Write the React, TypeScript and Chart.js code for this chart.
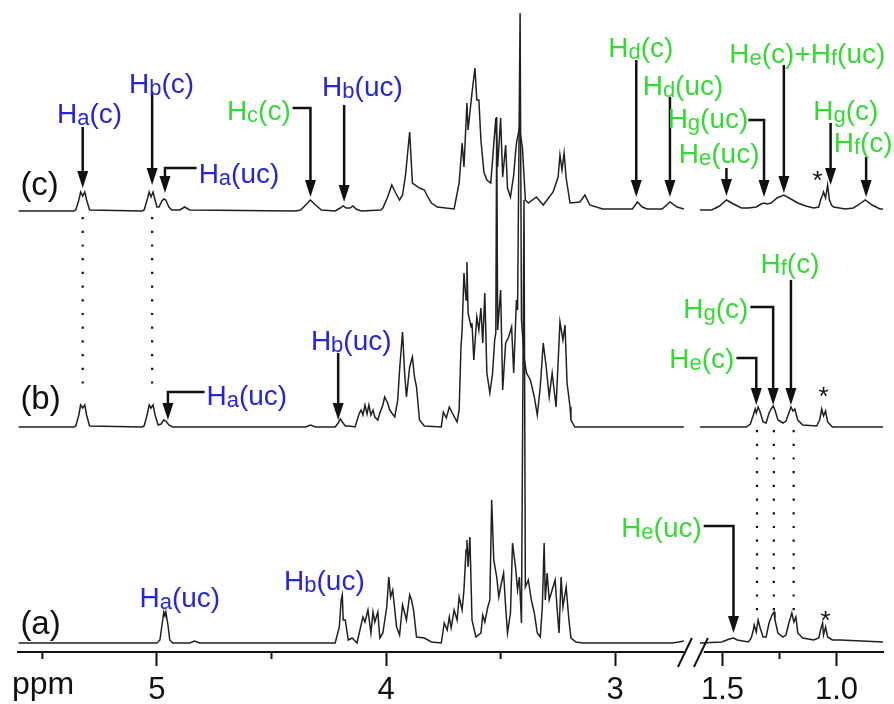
import React, { useEffect, useRef } from "react";
import { Chart, registerables } from "chart.js";

Chart.register(...registerables);

// ---------------- DATA (ppm, intensity above the trace's own baseline) ----------------
const SPEC_C_LEFT: [number, number][] = [
  [5.605, 0], [5.363, 0], [5.354, 1], [5.341, 11], [5.333, 19], [5.324, 15], [5.315, 19], [5.307, 11], [5.294, 1],
  [5.065, 0], [5.056, 1], [5.043, 11], [5.034, 19], [5.026, 14], [5.017, 19], [5.008, 11], [5.0, 4], [4.991, 4],
  [4.978, 10], [4.97, 12], [4.961, 11], [4.948, 4], [4.935, 1], [4.9, 1], [4.879, 4], [4.857, 1], [4.395, 0],
  [4.373, 1], [4.351, 6], [4.33, 11], [4.308, 6], [4.282, 1], [4.222, 0], [4.2, 3], [4.187, 5], [4.174, 3],
  [4.157, 3], [4.144, 5], [4.131, 2], [4.109, 0], [4.023, 1], [4.014, 3], [3.993, 14], [3.975, 26], [3.958, 18],
  [3.941, 11], [3.928, 16], [3.915, 36], [3.897, 79], [3.885, 28], [3.854, 23], [3.833, 21], [3.815, 13],
  [3.802, 8], [3.776, 4], [3.703, 2], [3.681, 28], [3.668, 68], [3.66, 44], [3.647, 108], [3.642, 81],
  [3.625, 118], [3.612, 143], [3.604, 111], [3.595, 111], [3.586, 71], [3.573, 39], [3.56, 31], [3.543, 28],
  [3.521, 93], [3.513, 44], [3.5, 93], [3.491, 34], [3.478, 66], [3.47, 23], [3.457, 14], [3.443, 36],
  [3.431, 68], [3.418, 83], [3.405, 64], [3.392, 11], [3.379, 8], [3.344, 14], [3.314, 6], [3.271, 19],
  [3.249, 34], [3.241, 56], [3.232, 41], [3.223, 58], [3.214, 33], [3.197, 8], [3.154, 9], [3.132, 16],
  [3.111, 6], [3.055, 2], [2.925, 2], [2.903, 9], [2.882, 4], [2.86, 2], [2.795, 2], [2.761, 9], [2.73, 4], [2.7, 2],
];
const SPEC_C_RIGHT: [number, number][] = [
  [1.6, 1], [1.548, 1], [1.513, 5], [1.483, 11], [1.452, 7], [1.417, 3], [1.387, 3], [1.352, 4], [1.331, 7],
  [1.318, 8], [1.304, 7], [1.287, 8], [1.261, 13], [1.231, 16], [1.2, 12], [1.17, 8], [1.135, 5], [1.1, 3],
  [1.078, 4], [1.07, 11], [1.061, 16], [1.057, 19], [1.048, 13], [1.039, 26], [1.031, 11], [1.022, 6],
  [1.013, 4], [0.961, 2], [0.926, 3], [0.905, 6], [0.874, 11], [0.844, 6], [0.809, 2], [0.796, 2],
];
const SPEC_B_LEFT: [number, number][] = [
  [5.605, 0], [5.363, 0], [5.354, 1], [5.341, 12], [5.333, 22], [5.324, 19], [5.315, 22], [5.307, 12], [5.294, 1],
  [5.065, 0], [5.056, 1], [5.043, 12], [5.034, 22], [5.026, 19], [5.017, 22], [5.008, 12], [4.995, 2], [4.982, 3],
  [4.97, 7], [4.961, 6], [4.948, 2], [4.931, 0], [4.351, 0], [4.33, 2], [4.308, 0], [4.222, 0], [4.209, 4],
  [4.2, 8], [4.191, 5], [4.178, 1], [4.161, 1], [4.135, 0], [4.118, 13], [4.109, 17], [4.101, 12], [4.092, 22],
  [4.083, 13], [4.075, 22], [4.066, 12], [4.057, 17], [4.049, 10], [4.036, 7], [4.027, 14], [4.014, 22],
  [4.006, 30], [3.993, 24], [3.984, 17], [3.975, 14], [3.962, 10], [3.949, 27], [3.941, 57], [3.928, 95],
  [3.919, 54], [3.911, 30], [3.897, 60], [3.885, 70], [3.876, 50], [3.867, 40], [3.854, 7], [3.833, 1],
  [3.759, 0], [3.75, 15], [3.737, 9], [3.724, 20], [3.711, 14], [3.69, 5], [3.681, 17], [3.673, 80],
  [3.668, 97], [3.66, 154], [3.651, 127], [3.647, 165], [3.642, 114], [3.629, 100], [3.625, 104], [3.617, 67],
  [3.604, 110], [3.595, 97], [3.586, 119], [3.578, 84], [3.569, 134], [3.56, 54], [3.547, 34], [3.535, 54],
  [3.526, 87], [3.521, 94], [3.517, 310], [3.513, 97], [3.5, 137], [3.491, 37], [3.478, 84], [3.465, 90],
  [3.452, 100], [3.443, 54], [3.431, 127], [3.426, 117], [3.415, 414], [3.409, 107], [3.396, 67], [3.387, 54],
  [3.37, 47], [3.353, 30], [3.34, 12], [3.327, 40], [3.314, 84], [3.301, 60], [3.288, 30], [3.275, 54],
  [3.258, 20], [3.241, 105], [3.228, 87], [3.219, 102], [3.21, 44], [3.197, 20], [3.193, 7], [3.176, 0], [2.7, 0],
];
const SPEC_B_RIGHT: [number, number][] = [
  [1.6, 0], [1.396, 0], [1.378, 3], [1.365, 12], [1.357, 18], [1.352, 14], [1.344, 20], [1.335, 15], [1.322, 5],
  [1.309, 4], [1.296, 14], [1.287, 18], [1.278, 21], [1.27, 17], [1.257, 7], [1.235, 4], [1.222, 6], [1.209, 14],
  [1.2, 20], [1.191, 16], [1.183, 18], [1.17, 7], [1.148, 2], [1.087, 1], [1.074, 7], [1.065, 18], [1.057, 11],
  [1.048, 16], [1.039, 5], [1.018, 0], [0.796, 0],
];
const SPEC_A_LEFT: [number, number][] = [
  [5.605, 0], [5.0, 0], [4.987, 3], [4.978, 18], [4.97, 31], [4.965, 27], [4.961, 31], [4.952, 18], [4.944, 3],
  [4.931, 0], [4.857, 0], [4.836, 2], [4.814, 0], [4.222, 0], [4.204, 16], [4.196, 43], [4.191, 48], [4.187, 23],
  [4.178, 23], [4.165, 3], [4.148, 5], [4.127, 0], [4.114, 13], [4.101, 26], [4.092, 21], [4.079, 33], [4.066, 10],
  [4.057, 31], [4.049, 21], [4.036, 31], [4.027, 5], [4.014, 10], [3.997, 36], [3.988, 66], [3.98, 46], [3.971, 53],
  [3.954, 16], [3.941, 8], [3.928, 38], [3.911, 23], [3.897, 48], [3.889, 43], [3.88, 33], [3.867, 6], [3.833, 5],
  [3.802, 1], [3.759, 0], [3.746, 20], [3.733, 13], [3.724, 26], [3.716, 15], [3.703, 33], [3.69, 23], [3.681, 46],
  [3.668, 33], [3.66, 53], [3.651, 93], [3.647, 103], [3.642, 76], [3.634, 106], [3.625, 23], [3.608, 6],
  [3.586, 10], [3.578, 28], [3.569, 21], [3.556, 36], [3.547, 43], [3.539, 143], [3.53, 83], [3.517, 66],
  [3.508, 46], [3.5, 56], [3.487, 70], [3.478, 36], [3.47, 10], [3.457, 30], [3.448, 100], [3.435, 76],
  [3.426, 53], [3.418, 66], [3.409, 20], [3.398, 443], [3.392, 56], [3.379, 63], [3.366, 43], [3.353, 30],
  [3.34, 10], [3.327, 6], [3.318, 36], [3.31, 100], [3.305, 43], [3.297, 70], [3.288, 43], [3.275, 53],
  [3.262, 63], [3.254, 36], [3.245, 10], [3.236, 66], [3.228, 36], [3.214, 56], [3.202, 23], [3.193, 5],
  [3.171, 1], [3.141, 0], [2.752, 0], [2.722, 1], [2.7, 2],
];
const SPEC_A_RIGHT: [number, number][] = [
  [1.6, 0], [1.504, 1], [1.47, 4], [1.452, 5], [1.435, 3], [1.387, 1], [1.374, 5], [1.365, 13], [1.361, 18],
  [1.352, 11], [1.344, 23], [1.335, 15], [1.322, 6], [1.309, 6], [1.296, 20], [1.283, 28], [1.274, 31],
  [1.27, 23], [1.257, 10], [1.235, 6], [1.222, 8], [1.209, 20], [1.196, 30], [1.187, 21], [1.178, 26],
  [1.17, 10], [1.148, 5], [1.1, 3], [1.078, 5], [1.07, 13], [1.061, 20], [1.057, 8], [1.048, 16], [1.039, 6],
  [1.018, 3], [0.983, 3], [0.796, 1],
];

// vertical stacking offsets of the three traces (y units)
const OFFSET_A = 9;
const OFFSET_B = 225;
const OFFSET_C = 441;

// axis ranges & ticks
const RANGE_LEFT = [2.7, 5.605];
const RANGE_RIGHT = [0.796, 1.6];
const TICKS_LEFT = [5.5, 5, 4.5, 4, 3.5, 3];
const TICK_LABELS_LEFT = ["", "5", "", "4", "", "3"];
const TICKS_RIGHT = [1.5, 1.25, 1.0];
const TICK_LABELS_RIGHT = ["1.5", "", "1.0"];

// ---------------- ANNOTATIONS ----------------
const BLUE = "#2626d2";
const GREEN = "#36d936";
const INK = "#111111";

type Lbl = { axis: string; ppm: number; u: number; text: string; color: string; align: "left" | "center" | "right"; size: number };
const LABELS: Lbl[] = [
  // (c)
  { axis: "xL", ppm: 5.294, u: 539, text: "H_a(c)", color: BLUE, align: "center", size: 28 },
  { axis: "xL", ppm: 4.98, u: 569, text: "H_b(c)", color: BLUE, align: "center", size: 28 },
  { axis: "xL", ppm: 4.818, u: 479, text: "H_a(uc)", color: BLUE, align: "left", size: 28 },
  { axis: "xL", ppm: 4.416, u: 542, text: "H_c(c)", color: GREEN, align: "right", size: 28 },
  { axis: "xL", ppm: 4.103, u: 566, text: "H_b(uc)", color: BLUE, align: "center", size: 28 },
  { axis: "xL", ppm: 2.888, u: 605, text: "H_d(c)", color: GREEN, align: "center", size: 28 },
  { axis: "xL", ppm: 2.704, u: 567, text: "H_d(uc)", color: GREEN, align: "center", size: 28 },
  { axis: "xR", ppm: 1.128, u: 599, text: "H_e(c)+H_f(uc)", color: GREEN, align: "center", size: 28 },
  { axis: "xR", ppm: 1.387, u: 534, text: "H_g(uc)", color: GREEN, align: "right", size: 28 },
  { axis: "xR", ppm: 1.515, u: 499, text: "H_e(uc)", color: GREEN, align: "center", size: 28 },
  { axis: "xR", ppm: 0.959, u: 542, text: "H_g(c)", color: GREEN, align: "center", size: 28 },
  { axis: "xR", ppm: 0.883, u: 510, text: "H_f(c)", color: GREEN, align: "center", size: 28 },
  { axis: "xL", ppm: 5.596, u: 469, text: "(c)", color: INK, align: "left", size: 33 },
  // (b)
  { axis: "xL", ppm: 4.784, u: 257, text: "H_a(uc)", color: BLUE, align: "left", size: 28 },
  { axis: "xL", ppm: 4.152, u: 312, text: "H_b(uc)", color: BLUE, align: "center", size: 28 },
  { axis: "xR", ppm: 1.448, u: 294, text: "H_e(c)", color: GREEN, align: "right", size: 28 },
  { axis: "xR", ppm: 1.387, u: 344, text: "H_g(c)", color: GREEN, align: "right", size: 28 },
  { axis: "xR", ppm: 1.204, u: 389, text: "H_f(c)", color: GREEN, align: "center", size: 28 },
  { axis: "xL", ppm: 5.596, u: 255, text: "(b)", color: INK, align: "left", size: 33 },
  // (a)
  { axis: "xL", ppm: 4.9, u: 55, text: "H_a(uc)", color: BLUE, align: "center", size: 28 },
  { axis: "xL", ppm: 4.269, u: 72, text: "H_b(uc)", color: BLUE, align: "center", size: 28 },
  { axis: "xR", ppm: 1.591, u: 125, text: "H_e(uc)", color: GREEN, align: "right", size: 28 },
  { axis: "xL", ppm: 5.596, u: 30, text: "(a)", color: INK, align: "left", size: 33 },
];

const STARS = [
  { axis: "xR", ppm: 1.083, u: 475 },
  { axis: "xR", ppm: 1.057, u: 259 },
  { axis: "xR", ppm: 1.048, u: 35 },
];

type Arrow = { axis: string; ppm: number; from: number; to: number; elbowFrom?: number };
const ARROWS: Arrow[] = [
  { axis: "xL", ppm: 5.324, from: 525, to: 464 },
  { axis: "xL", ppm: 5.021, from: 559, to: 467 },
  { axis: "xL", ppm: 4.965, from: 484, to: 459, elbowFrom: 4.827 },
  { axis: "xL", ppm: 4.33, from: 544, to: 455, elbowFrom: 4.408 },
  { axis: "xL", ppm: 4.183, from: 547, to: 450 },
  { axis: "xL", ppm: 2.908, from: 592, to: 455 },
  { axis: "xL", ppm: 2.761, from: 555, to: 455 },
  { axis: "xR", ppm: 1.231, from: 587, to: 459 },
  { axis: "xR", ppm: 1.318, from: 532, to: 455, elbowFrom: 1.387 },
  { axis: "xR", ppm: 1.483, from: 484, to: 456 },
  { axis: "xR", ppm: 1.026, from: 529, to: 467 },
  { axis: "xR", ppm: 0.87, from: 495, to: 455 },
  { axis: "xL", ppm: 4.952, from: 260, to: 232, elbowFrom: 4.792 },
  { axis: "xL", ppm: 4.209, from: 299, to: 232 },
  { axis: "xR", ppm: 1.352, from: 294, to: 247, elbowFrom: 1.439 },
  { axis: "xR", ppm: 1.278, from: 345, to: 247, elbowFrom: 1.378 },
  { axis: "xR", ppm: 1.2, from: 372, to: 247 },
  { axis: "xR", ppm: 1.452, from: 126, to: 19, elbowFrom: 1.583 },
];

const DOTTED = [
  { axis: "xL", ppm: 5.324, from: 435, to: 257 },
  { axis: "xL", ppm: 5.021, from: 435, to: 257 },
  { axis: "xR", ppm: 1.349, from: 222, to: 40 },
  { axis: "xR", ppm: 1.275, from: 222, to: 40 },
  { axis: "xR", ppm: 1.188, from: 222, to: 40 },
];

const FONT = '"Liberation Sans", Arial, Helvetica, sans-serif';

function drawRich(ctx: CanvasRenderingContext2D, text: string, x: number, y: number, align: string, color: string, size: number) {
  const parts: { t: string; sub: boolean; w: number }[] = [];
  let i = 0;
  while (i < text.length) {
    if (text[i] === "_") {
      parts.push({ t: text[i + 1], sub: true, w: 0 });
      i += 2;
    } else {
      let j = i;
      while (j < text.length && text[j] !== "_") j++;
      parts.push({ t: text.slice(i, j), sub: false, w: 0 });
      i = j;
    }
  }
  const subSize = Math.round(size * 0.8);
  let total = 0;
  for (const p of parts) {
    ctx.font = `${p.sub ? subSize : size}px ${FONT}`;
    p.w = ctx.measureText(p.t).width;
    total += p.w;
  }
  let x0 = align === "left" ? x : align === "right" ? x - total : x - total / 2;
  const base = y + size * 0.36;
  ctx.fillStyle = color;
  ctx.textAlign = "left";
  ctx.textBaseline = "alphabetic";
  for (const p of parts) {
    ctx.font = `${p.sub ? subSize : size}px ${FONT}`;
    ctx.fillText(p.t, x0, base + (p.sub ? 2 : 0));
    x0 += p.w;
  }
}

const annotationPlugin = {
  id: "nmrAnnotations",
  afterDraw(chart: any) {
    const { ctx, chartArea } = chart;
    const px = (axis: string, v: number) => chart.scales[axis].getPixelForValue(v);
    const py = (v: number) => chart.scales.y.getPixelForValue(v);
    const bottom = chartArea.bottom;
    ctx.save();

    // minor ticks (shorter)
    ctx.strokeStyle = INK;
    ctx.lineWidth = 2;
    TICKS_LEFT.forEach((v, k) => {
      if (TICK_LABELS_LEFT[k]) return;
      const x = px("xL", v);
      ctx.beginPath(); ctx.moveTo(x, bottom); ctx.lineTo(x, bottom + 7); ctx.stroke();
    });
    TICKS_RIGHT.forEach((v, k) => {
      if (TICK_LABELS_RIGHT[k]) return;
      const x = px("xR", v);
      ctx.beginPath(); ctx.moveTo(x, bottom); ctx.lineTo(x, bottom + 7); ctx.stroke();
    });

    // axis break marks
    const g = chart.scales.xG;
    ctx.fillStyle = "#ffffff";
    ctx.fillRect(g.left, bottom - 3, g.right - g.left + 4, 6);
    ctx.strokeStyle = INK;
    ctx.lineWidth = 2;
    ctx.beginPath();
    ctx.moveTo(g.left - 6, bottom + 15); ctx.lineTo(g.left + 8, bottom - 14);
    ctx.moveTo(g.left + 10, bottom + 15); ctx.lineTo(g.left + 24, bottom - 14);
    ctx.stroke();

    // "ppm"
    ctx.fillStyle = INK;
    ctx.font = `32px ${FONT}`;
    ctx.textAlign = "left";
    ctx.textBaseline = "alphabetic";
    ctx.fillText("ppm", 12, 694);

    // dotted guide lines
    ctx.strokeStyle = INK;
    ctx.lineWidth = 2.2;
    ctx.setLineDash([2.2, 11.5]);
    for (const d of DOTTED) {
      const x = px(d.axis, d.ppm);
      ctx.beginPath(); ctx.moveTo(x, py(d.from)); ctx.lineTo(x, py(d.to)); ctx.stroke();
    }
    ctx.setLineDash([]);

    // arrows
    const headLen = 17, halfW = 5.5;
    ctx.lineWidth = 2.5;
    ctx.strokeStyle = INK;
    ctx.fillStyle = INK;
    for (const a of ARROWS) {
      const x = px(a.axis, a.ppm);
      const y0 = py(a.from);
      const yt = py(a.to);
      ctx.beginPath();
      if (a.elbowFrom !== undefined) {
        ctx.moveTo(px(a.axis, a.elbowFrom), y0);
        ctx.lineTo(x, y0);
      } else {
        ctx.moveTo(x, y0);
      }
      ctx.lineTo(x, yt - headLen + 2);
      ctx.stroke();
      ctx.beginPath();
      ctx.moveTo(x, yt);
      ctx.lineTo(x - halfW, yt - headLen);
      ctx.lineTo(x + halfW, yt - headLen);
      ctx.closePath();
      ctx.fill();
    }

    // labels
    for (const l of LABELS) {
      drawRich(ctx, l.text, px(l.axis, l.ppm), py(l.u), l.align, l.color, l.size);
    }

    // asterisks
    ctx.fillStyle = INK;
    ctx.font = `26px ${FONT}`;
    ctx.textAlign = "center";
    ctx.textBaseline = "middle";
    for (const s of STARS) {
      ctx.fillText("*", px(s.axis, s.ppm), py(s.u) + 5);
    }
    ctx.restore();
  },
};

function makeSet(points: [number, number][], offset: number, axis: string) {
  return {
    data: points.map(([p, v]) => ({ x: p, y: offset + v })),
    xAxisID: axis,
    yAxisID: "y",
    showLine: true,
    pointRadius: 0,
    borderColor: "#202020",
    borderWidth: 1.5,
    tension: 0,
    fill: false,
  };
}

export default function App() {
  const ref = useRef<HTMLCanvasElement | null>(null);

  useEffect(() => {
    if (!ref.current) return;
    const tickFont = { family: FONT, size: 31 };
    const fixHeight = (s: any) => { s.height = 52; };
    const chart = new Chart(ref.current, {
      type: "scatter",
      data: {
        datasets: [
          makeSet(SPEC_C_LEFT, OFFSET_C, "xL"),
          makeSet(SPEC_C_RIGHT, OFFSET_C, "xR"),
          makeSet(SPEC_B_LEFT, OFFSET_B, "xL"),
          makeSet(SPEC_B_RIGHT, OFFSET_B, "xR"),
          makeSet(SPEC_A_LEFT, OFFSET_A, "xL"),
          makeSet(SPEC_A_RIGHT, OFFSET_A, "xR"),
        ] as any,
      },
      options: {
        animation: false,
        responsive: false,
        events: [],
        layout: { padding: { left: 10, right: 11, top: 10, bottom: 0 } },
        plugins: { legend: { display: false }, tooltip: { enabled: false } },
        scales: {
          xL: {
            type: "linear",
            position: "bottom",
            stack: "x",
            stackWeight: 672,
            reverse: true,
            min: RANGE_LEFT[0],
            max: RANGE_LEFT[1],
            afterBuildTicks: (s: any) => { s.ticks = TICKS_LEFT.map((v) => ({ value: v })); },
            afterFit: fixHeight,
            border: { display: true, color: INK, width: 2 },
            grid: {
              display: true,
              drawOnChartArea: false,
              drawTicks: true,
              tickLength: 14,
              tickWidth: 2,
              tickColor: (c: any) => (TICK_LABELS_LEFT[c.index] ? INK : "rgba(0,0,0,0)"),
            },
            ticks: {
              autoSkip: false,
              maxRotation: 0,
              padding: 6,
              color: INK,
              font: tickFont,
              callback: (_v: any, i: number) => TICK_LABELS_LEFT[i],
            },
          },
          xG: {
            type: "linear",
            position: "bottom",
            stack: "x",
            stackWeight: 16,
            min: 0,
            max: 1,
            afterFit: fixHeight,
            border: { display: false },
            grid: { display: false },
            ticks: { display: false },
          },
          xR: {
            type: "linear",
            position: "bottom",
            stack: "x",
            stackWeight: 185,
            reverse: true,
            min: RANGE_RIGHT[0],
            max: RANGE_RIGHT[1],
            afterBuildTicks: (s: any) => { s.ticks = TICKS_RIGHT.map((v) => ({ value: v })); },
            afterFit: fixHeight,
            border: { display: true, color: INK, width: 2 },
            grid: {
              display: true,
              drawOnChartArea: false,
              drawTicks: true,
              tickLength: 14,
              tickWidth: 2,
              tickColor: (c: any) => (TICK_LABELS_RIGHT[c.index] ? INK : "rgba(0,0,0,0)"),
            },
            ticks: {
              autoSkip: false,
              maxRotation: 0,
              padding: 6,
              color: INK,
              font: tickFont,
              callback: (_v: any, i: number) => TICK_LABELS_RIGHT[i],
            },
          },
          y: { type: "linear", display: false, min: 0, max: 642 },
        },
      } as any,
      plugins: [annotationPlugin],
    });
    return () => chart.destroy();
  }, []);

  return (
    <div style={{ position: "absolute", left: 0, top: 0, width: 894, height: 704, background: "#fff" }}>
      <canvas ref={ref} width={894} height={704} style={{ display: "block" }} />
    </div>
  );
}
